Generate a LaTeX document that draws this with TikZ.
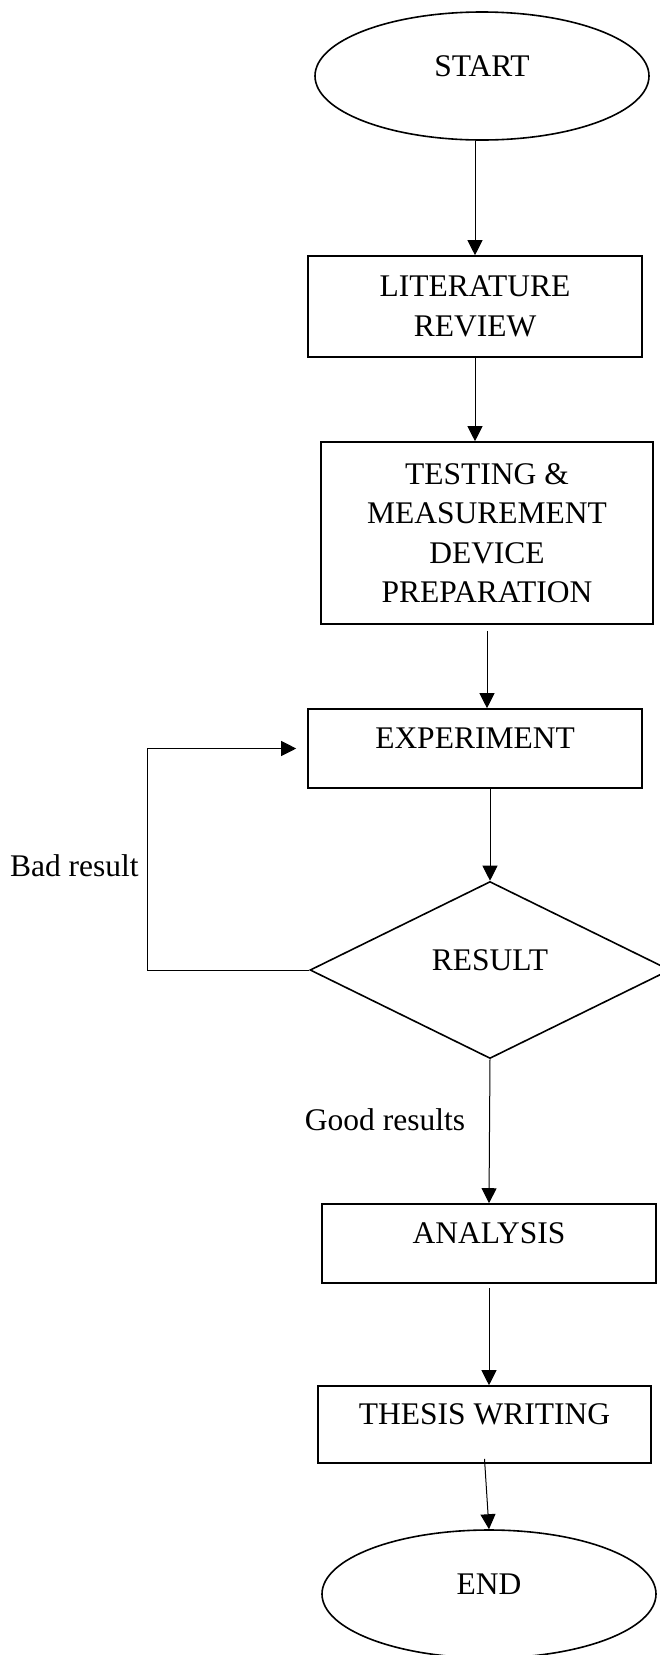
\documentclass[tikz,border=0pt]{standalone}
\usepackage{fontspec}
\setmainfont{Liberation Serif}
\usetikzlibrary{arrows.meta,positioning,shapes.geometric}
\tikzset{
  terminal/.style={draw, ellipse, line width=1.6pt, minimum width=334pt,
    minimum height=128pt, inner sep=0pt, text height=21pt, text depth=21pt},
  process/.style={draw, rectangle, line width=1.6pt, inner sep=0pt,
    align=center},
  oneline/.style={text height=21pt, text depth=21pt},
  decision/.style={draw, diamond, line width=1.6pt, minimum width=360pt,
    minimum height=177pt, inner sep=0pt, text height=21pt, text depth=21pt},
  arrow/.style={-{Triangle[length=15pt,width=15pt]}, line width=1pt},
  tag/.style={inner sep=0pt}
}
\begin{document}
\begin{tikzpicture}[x=1pt, y=-1pt, font=\fontsize{31.5}{39.5}\selectfont]
  \useasboundingbox (0,0) rectangle (659,1655);
  \node[terminal] (start) at (482,76) {START};
  \node[process, minimum width=334pt, minimum height=101pt] (review) at (475,306.5) {LITERATURE\\REVIEW};
  \node[process, minimum width=332pt, minimum height=182pt] (prep) at (487,533) {TESTING \&\\MEASUREMENT\\DEVICE\\PREPARATION};
  \node[process, oneline, minimum width=334pt, minimum height=79pt] (experiment) at (475,748.5) {EXPERIMENT};
  \node[decision] (result) at (490,970) {RESULT};
  \node[process, oneline, minimum width=334pt, minimum height=79pt] (analysis) at (489,1243.5) {ANALYSIS};
  \node[process, oneline, minimum width=333pt, minimum height=77pt] (thesis) at (484.5,1424.5) {THESIS WRITING};
  \node[terminal] (finish) at (489,1594) {END};

  % main flow
  \draw[arrow] (review.north |- start.south) -- (review.north);
  \draw[arrow] (review.south) -- (prep.north -| review.south);
  \draw[arrow] ([yshift=-6pt]prep.south) -- (experiment.north -| prep.south);
  \draw[arrow] (experiment.south -| result.north) -- (result.north);
  \draw[arrow] (result.south) -- node[tag, left=24pt, pos=0.42] {Good results} (analysis.north);
  \draw[arrow] ([yshift=-4pt]analysis.south) -- (thesis.north -| analysis.south);
  \draw[arrow] ([yshift=5pt]thesis.south) -- (finish.north);

  % loop back
  \draw[arrow] (result.west) -- ++(-162,0) |- node[tag, left=8pt, pos=0.235] {Bad result} ([xshift=-11pt]experiment.west);
\end{tikzpicture}
\end{document}
